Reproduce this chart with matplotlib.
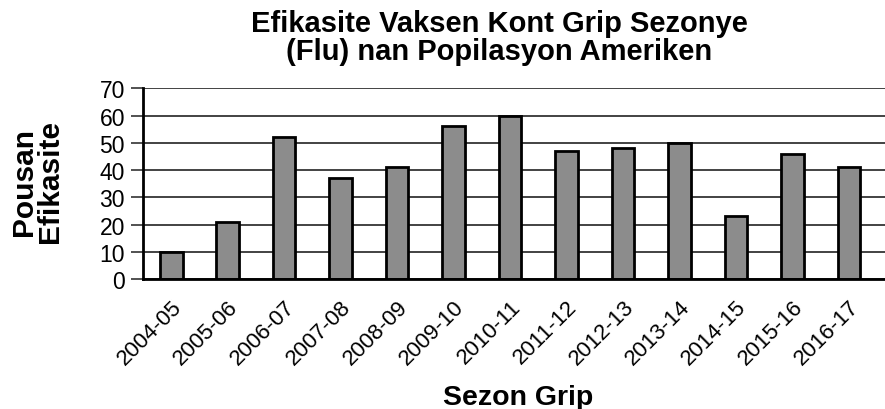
import matplotlib.pyplot as plt

plt.rcParams["font.family"] = ["Liberation Sans", "DejaVu Sans"]

# Veri
sezonlar = ["2004-05", "2005-06", "2006-07", "2007-08", "2008-09", "2009-10", "2010-11",
            "2011-12", "2012-13", "2013-14", "2014-15", "2015-16", "2016-17"]
efikasite = [10, 21, 52, 37, 41, 56, 60, 47, 48, 50, 23, 46, 41]
y_ticks = [0, 10, 20, 30, 40, 50, 60, 70]

fig = plt.figure(figsize=(8.85, 4.1), dpi=100)
ax = fig.add_axes([143 / 885, 1 - 280 / 410, (885 - 143) / 885, (280 - 89.3) / 410])

x = list(range(len(sezonlar)))
ax.bar(x, efikasite, width=0.4, color="#8c8c8c", edgecolor="black", linewidth=2, zorder=3)

ax.set_ylim(0, 70)
ax.set_xlim(-0.5, 12.64)
ax.set_yticks(y_ticks)
ax.set_yticklabels([str(t) for t in y_ticks], fontsize=16.5)
ax.set_xticks(x)
ax.set_xticklabels(sezonlar, fontsize=16, rotation=45, ha="right", rotation_mode="anchor")
ax.tick_params(axis="x", length=0, pad=12)
ax.tick_params(axis="y", length=9, width=1.2, color="#333", pad=4)

ax.yaxis.grid(True, color="#222", linewidth=1.2, zorder=0)
for s in ["top", "right"]:
    ax.spines[s].set_visible(False)
ax.spines["left"].set_linewidth(2)
ax.spines["bottom"].set_linewidth(2)
ax.spines["left"].set_zorder(4)
ax.spines["bottom"].set_zorder(4)

# Başlıklar
fig.text(499 / 885, 1 - 10 / 410, "Efikasite Vaksen Kont Grip Sezonye\n(Flu) nan Popilasyon Ameriken",
         ha="center", va="top", fontsize=21, fontweight="bold", linespacing=0.98)
fig.text(518 / 885, 1 - 405 / 410, "Sezon Grip", ha="center", va="baseline",
         fontsize=20.5, fontweight="bold")
fig.text(37 / 885, 1 - 182 / 410, "Pousan\nEfikasite", ha="center", va="center",
         rotation=90, fontsize=21.5, fontweight="bold", linespacing=0.95)

fig.savefig("out.png", dpi=100)
